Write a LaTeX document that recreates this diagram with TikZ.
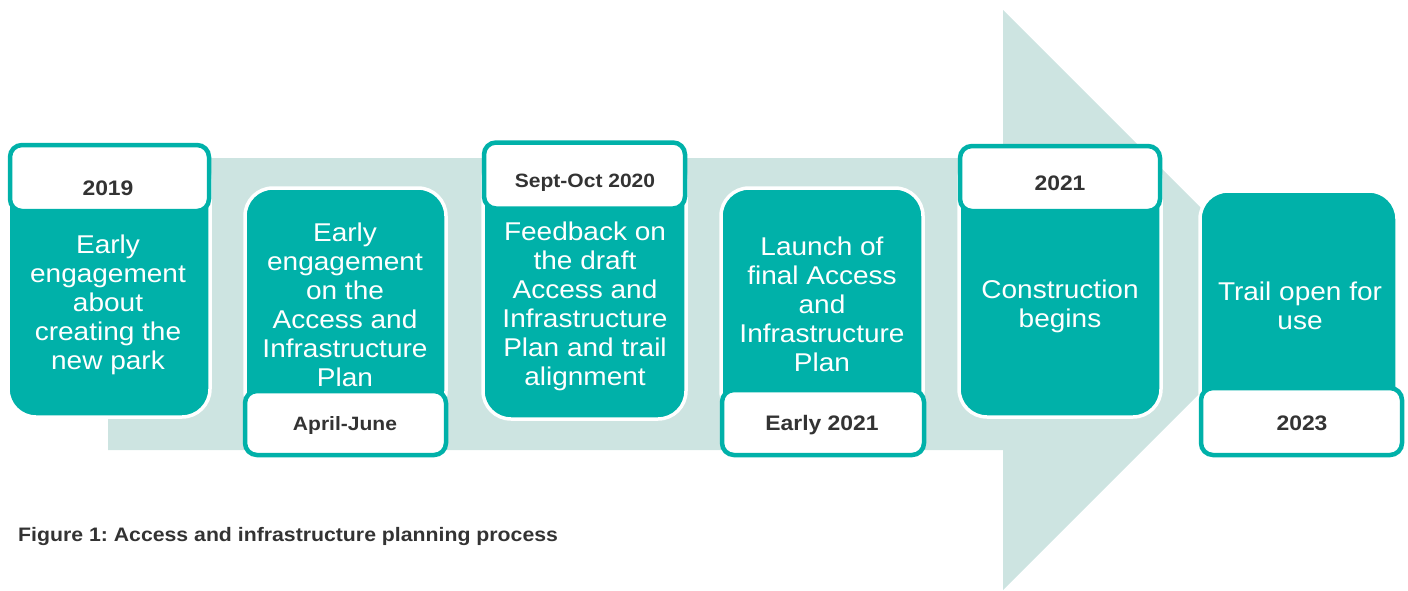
\documentclass[tikz,border=0pt]{standalone}
\usepackage{fontspec}
\setmainfont{Liberation Sans}[FakeStretch=1.09]
\definecolor{teal1}{HTML}{00B1A9}
\definecolor{pale}{HTML}{CDE4E1}
\definecolor{ink}{HTML}{333333}
\frenchspacing
\begin{document}
\begin{tikzpicture}[x=1pt,y=-1pt,
  body/.style={draw=white, line width=3.5pt, fill=teal1, rounded corners=28pt, inner sep=0pt},
  tag/.style={draw=teal1, line width=4.5pt, fill=white, rounded corners=12pt, inner sep=0pt},
  bodytext/.style={text=white, align=center, inner sep=0pt, font=\fontsize{25.7}{29}\selectfont},
  tagtext/.style={text=ink, inner sep=0pt, anchor=base, font=\bfseries\fontsize{21}{24}\selectfont},
  tagsmall/.style={tagtext, font=\bfseries\fontsize{19.3}{22}\selectfont},
  caption/.style={text=ink, inner sep=0pt, anchor=base west, font=\bfseries\fontsize{19.5}{22}\selectfont}
]
\useasboundingbox (0,0) rectangle (1408,590);
% big background arrow
\fill[pale] (108,158) -- (1003,158) -- (1003,10) -- (1293,300) -- (1003,590) -- (1003,450) -- (108,450) -- cycle;

% bodies
\node[body, minimum width=202pt, minimum height=266pt] (b1) at (109,284) {};
\node[body, minimum width=201pt, minimum height=231pt] (b2) at (345.5,303.5) {};
\node[body, minimum width=203pt, minimum height=268pt] (b3) at (584.5,285) {};
\node[body, minimum width=202pt, minimum height=231pt] (b4) at (822,303.5) {};
\node[body, minimum width=202pt, minimum height=266pt] (b5) at (1060,284) {};
\node[body, minimum width=197pt, minimum height=228pt] (b6) at (1298.5,305) {};

% tags
\node[tag, minimum width=199pt, minimum height=66pt] (l1) at (109.5,178) {};
\node[tag, minimum width=201pt, minimum height=64pt] (l2) at (345.5,423) {};
\node[tag, minimum width=201pt, minimum height=66pt] (l3) at (584.5,175.5) {};
\node[tag, minimum width=202pt, minimum height=65pt] (l4) at (823,422.5) {};
\node[tag, minimum width=200pt, minimum height=65pt] (l5) at (1060,178.5) {};
\node[tag, minimum width=201pt, minimum height=67pt] (l6) at (1301.5,421.5) {};

% tag texts
\node[tagtext] (d1) at (108,195) {2019};
\node[tagsmall] (d2) at (345,430) {April-June};
\node[tagsmall] (d3) at (585,187) {Sept-Oct 2020};
\node[tagtext] (d4) at (822,430.5) {Early 2021};
\node[tagtext] (d5) at (1060,190.5) {2021};
\node[tagtext] (d6) at (1302,430) {2023};

% body texts
\node[bodytext] (t1) at (108,305) {Early\\engagement\\about\\creating the\\new park};
\node[bodytext] (t2) at (345,305) {Early\\engagement\\on the\\Access and\\Infrastructure\\Plan};
\node[bodytext] (t3) at (585,306) {Feedback on\\the draft\\Access and\\Infrastructure\\Plan and trail\\alignment};
\node[bodytext] (t4) at (822,304) {Launch of\\final Access\\and\\Infrastructure\\Plan};
\node[bodytext] (t5) at (1060,306) {Construction\\begins};
\node[bodytext] (t6) at (1300,305.5) {Trail open for\\use};

% caption
\node[caption] (cap) at (18,541) {Figure 1: Access and infrastructure planning process};
\end{tikzpicture}
\end{document}
